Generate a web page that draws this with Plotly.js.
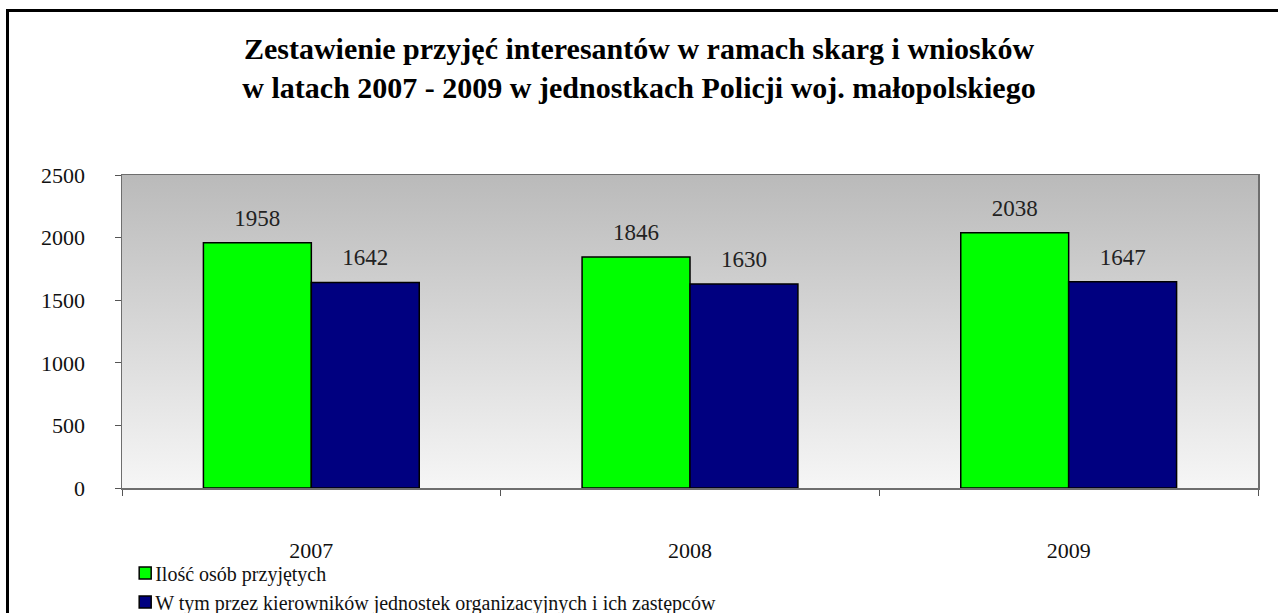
<!DOCTYPE html>
<html>
<head>
<meta charset="utf-8">
<script src="https://cdn.plot.ly/plotly-3.0.1.min.js"></script>
<style>
  html, body { margin: 0; padding: 0; background: #ffffff; }
  #wrap { position: relative; width: 1278px; height: 613px; overflow: hidden; }
  #chart { position: absolute; left: 0; top: 0; width: 1278px; height: 613px; }
  #frame { position: absolute; left: 6px; top: 9px; width: 1300px; height: 700px;
           border-top: 3px solid #000; border-left: 3px solid #000; pointer-events: none; }
</style>
</head>
<body>
<div id="wrap">
  <div id="chart"></div>
  <div id="frame"></div>
</div>
<script>
const years = ['2007', '2008', '2009'];
const przyjetych = [1958, 1846, 2038];
const kierownikow = [1642, 1630, 1647];
const seriesNames = ['Ilość osób przyjętych', 'W tym przez kierowników jednostek organizacyjnych i ich zastępców'];
const yTicks = [0, 500, 1000, 1500, 2000, 2500];

const serif = 'Liberation Serif, Times New Roman, serif';

const gradSvg = '<svg xmlns="http://www.w3.org/2000/svg" width="100" height="100" preserveAspectRatio="none">' +
  '<defs><linearGradient id="g" x1="0" y1="0" x2="0" y2="1">' +
  '<stop offset="0" stop-color="#bababa"/><stop offset="1" stop-color="#f6f6f6"/>' +
  '</linearGradient></defs><rect width="100" height="100" fill="url(#g)"/></svg>';
const gradUri = 'data:image/svg+xml;base64,' + btoa(gradSvg);

const labelFont = { family: serif, size: 23, color: '#222222' };

const traces = [
  {
    type: 'bar', x: years, y: przyjetych, name: seriesNames[0],
    marker: { color: '#00ff00', line: { color: '#000000', width: 1.5 } },
    text: przyjetych.map(String), textposition: 'outside',
    textfont: labelFont, cliponaxis: false
  },
  {
    type: 'bar', x: years, y: kierownikow, name: seriesNames[1],
    marker: { color: '#000080', line: { color: '#000000', width: 1.5 } },
    text: kierownikow.map(String), textposition: 'outside',
    textfont: labelFont, cliponaxis: false
  }
];

const layout = {
  width: 1278, height: 613,
  margin: { l: 122, r: 20, t: 175, b: 125, autoexpand: false },
  paper_bgcolor: 'rgba(0,0,0,0)',
  plot_bgcolor: 'rgba(0,0,0,0)',
  font: { family: serif, color: '#111111' },
  title: {
    text: '<b>Zestawienie przyjęć interesantów w ramach skarg i wniosków<br>w latach 2007 - 2009 w jednostkach Policji woj. małopolskiego</b>',
    font: { family: serif, size: 30, color: '#000000' },
    x: 0.5, xref: 'container', xanchor: 'center',
    y: 0.903, yref: 'container', yanchor: 'top'
  },
  barmode: 'group', bargap: 0.43, bargroupgap: 0,
  xaxis: {
    type: 'category', tickson: 'boundaries', ticks: 'outside', ticklen: 6, tickcolor: '#555555',
    showline: true, linecolor: '#6e6e6e', linewidth: 1.5, mirror: true,
    showgrid: false, tickfont: { family: serif, size: 22, color: '#111111' },
    ticklabelstandoff: 42, fixedrange: true
  },
  yaxis: {
    range: [0, 2500], tickvals: yTicks, ticks: 'outside', ticklen: 6, tickcolor: '#555555',
    showline: true, linecolor: '#6e6e6e', linewidth: 1.5, mirror: true,
    showgrid: false, zeroline: false, tickfont: { family: serif, size: 22, color: '#111111' },
    ticklabelstandoff: 25, fixedrange: true
  },
  images: [{
    source: gradUri, xref: 'paper', yref: 'paper', x: 0, y: 1, sizex: 1, sizey: 1,
    xanchor: 'left', yanchor: 'top', sizing: 'stretch', layer: 'below'
  }],
  showlegend: true,
  legend: {
    orientation: 'v', x: -0.006, xanchor: 'left', xref: 'paper',
    y: 0.097, yref: 'container', yanchor: 'top',
    font: { family: serif, size: 20, color: '#111111' },
    bgcolor: 'rgba(0,0,0,0)', itemwidth: 30, tracegroupgap: 0
  }
};

Plotly.newPlot('chart', traces, layout, { displayModeBar: false, staticPlot: true }).then(function (gd) {
  // lift the value labels a little higher above the bars, as in the original
  gd.querySelectorAll('text.bartext').forEach(function (t) {
    const tr = t.getAttribute('transform') || '';
    t.setAttribute('transform', 'translate(0,-9) ' + tr);
  });
  // bring legend squares closer to their texts
  gd.querySelectorAll('g.legendsymbols').forEach(function (s) {
    const tr = s.getAttribute('transform') || '';
    s.setAttribute('transform', 'translate(10,0) ' + tr);
  });
});
</script>
</body>
</html>
